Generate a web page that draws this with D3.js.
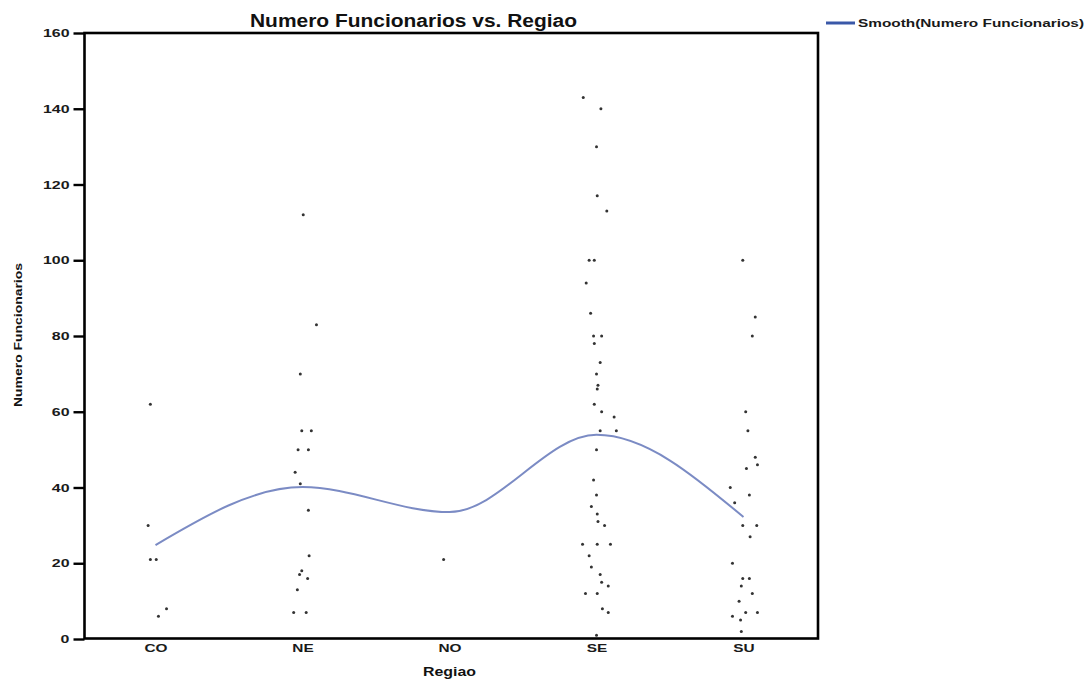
<!DOCTYPE html>
<html>
<head>
<meta charset="utf-8">
<script src="https://cdn.jsdelivr.net/npm/d3@7"></script>
<style>
  html, body { margin: 0; padding: 0; background: #fff; }
  svg { display: block; font-family: "Liberation Sans", Arial, sans-serif; }
</style>
</head>
<body>
<svg id="chart" width="1085" height="680"></svg>
<script>
// Regions on the x axis
const regions = ["CO", "NE", "NO", "SE", "SU"];

// Employee counts per region; jitter is the horizontal spread within a region (in category units)
const coValues = [62, 30, 21, 21, 8, 6];
const coJitter = [-0.035, -0.05, -0.035, 0.005, 0.075, 0.02];

const neValues = [112, 83, 70, 55, 55, 50, 50, 44, 41, 34, 22, 18, 17, 16, 13, 7, 7];
const neJitter = [0.005, 0.095, -0.015, -0.005, 0.06, -0.03, 0.04, -0.05, -0.015, 0.04, 0.045, -0.005, -0.02, 0.035, -0.035, -0.06, 0.025];

const noValues = [21];
const noJitter = [-0.04];

const seValues = [143, 140, 130, 117, 113, 100, 100, 94, 86, 80, 80, 78, 73, 70, 67, 66, 62, 60, 58.6, 55, 55,
                  50, 42, 38, 35, 33, 31, 30, 25, 25, 25, 22, 19, 17, 15, 14, 12, 12, 8, 7, 1];
const seJitter = [-0.09, 0.03, 0, 0.005, 0.07, -0.05, -0.015, -0.07, -0.04, -0.02, 0.035, -0.015, 0.025, 0, 0.01, 0.005, -0.015, 0.035, 0.12, 0.025, 0.135,
                  0, -0.02, 0, -0.035, 0.005, 0.01, 0.055, -0.095, 0.005, 0.095, -0.05, -0.035, 0.025, 0.035, 0.08, -0.075, 0.005, 0.04, 0.08, 0];

const suValues = [100, 85, 80, 60, 55, 48, 45, 46, 40, 36, 38, 30, 30, 27, 20, 16, 16, 14, 12, 10, 7, 7, 6, 5, 2];
const suJitter = [-0.005, 0.08, 0.06, 0.015, 0.03, 0.08, 0.02, 0.095, -0.09, -0.06, 0.04, -0.005, 0.09, 0.045, -0.075, -0.005, 0.04, -0.015, 0.06, -0.03, 0.015, 0.095, -0.075, -0.02, -0.015];

// Smoothed fit of employee count per region
const smoothValues = [24.8, 40.1, 33.5, 53.9, 32.2];

// Y axis ticks
const yTicks = [0, 20, 40, 60, 80, 100, 120, 140, 160];

const title = "Numero Funcionarios vs. Regiao";
const yLabel = "Numero Funcionarios";
const xLabel = "Regiao";
const legendLabel = "Smooth(Numero Funcionarios)";

const groups = [
  [coValues, coJitter], [neValues, neJitter], [noValues, noJitter],
  [seValues, seJitter], [suValues, suJitter]
];
const points = [];
groups.forEach(([vals, jit], i) => {
  vals.forEach((v, k) => points.push({ x: i + jit[k], y: v }));
});

const svg = d3.select("#chart");
const frame = { left: 84.5, right: 818, top: 33, bottom: 638.5 };

const x = d3.scaleLinear().domain([-0.5, regions.length - 0.5]).range([82, 817]);
const y = d3.scaleLinear().domain([0, 160]).range([639, 33]);

// Plot frame
svg.append("rect")
  .attr("x", frame.left).attr("y", frame.top)
  .attr("width", frame.right - frame.left)
  .attr("height", frame.bottom - frame.top)
  .attr("fill", "none").attr("stroke", "#000").attr("stroke-width", 2.6);

// Y axis
const yAxis = svg.append("g")
  .attr("transform", `translate(${frame.left},0)`)
  .call(d3.axisLeft(y).tickValues(yTicks).tickSize(11).tickPadding(4));
yAxis.select(".domain").remove();
yAxis.selectAll(".tick line").attr("stroke", "#000").attr("stroke-width", 2.4);
yAxis.selectAll(".tick text")
  .attr("font-size", 11).attr("font-weight", "bold").attr("fill", "#1a1a1a")
  .attr("font-family", "Liberation Sans, Arial, sans-serif")
  .each(function () {
    const t = d3.select(this);
    t.attr("transform", `translate(${t.attr("x")},0) scale(1.45,1)`).attr("x", 0);
  });

// X axis (category labels only)
const xAxis = svg.append("g")
  .attr("transform", `translate(0,${frame.bottom})`)
  .call(d3.axisBottom(x).tickValues(d3.range(regions.length))
        .tickFormat(i => regions[i]).tickSize(0).tickPadding(6));
xAxis.select(".domain").remove();
xAxis.selectAll(".tick text")
  .attr("font-size", 11).attr("font-weight", "bold").attr("fill", "#1a1a1a")
  .attr("font-family", "Liberation Sans, Arial, sans-serif")
  .attr("dy", "0.71em")
  .each(function () {
    const t = d3.select(this);
    t.attr("transform", `translate(0,${t.attr("y")}) scale(1.4,1)`).attr("y", 0);
  });

// Scatter points
svg.append("g").selectAll("circle")
  .data(points)
  .join("circle")
  .attr("cx", d => x(d.x))
  .attr("cy", d => y(d.y))
  .attr("r", 1.5)
  .attr("fill", "#333");

// Smooth line
const line = d3.line()
  .x((d, i) => x(i))
  .y(d => y(d))
  .curve(d3.curveMonotoneX);
svg.append("path")
  .datum(smoothValues)
  .attr("d", line)
  .attr("fill", "none")
  .attr("stroke", "#4f64b0")
  .attr("stroke-opacity", 0.75)
  .attr("stroke-width", 2);

// Title
svg.append("text")
  .attr("x", 413.5).attr("y", 27)
  .attr("text-anchor", "middle")
  .attr("font-size", 18).attr("font-weight", "bold").attr("fill", "#111")
  .attr("textLength", 327).attr("lengthAdjust", "spacingAndGlyphs")
  .text(title);

// Axis titles
svg.append("text")
  .attr("transform", "translate(22,335) rotate(-90)")
  .attr("text-anchor", "middle")
  .attr("font-size", 11).attr("font-weight", "bold").attr("fill", "#111")
  .attr("textLength", 144).attr("lengthAdjust", "spacingAndGlyphs")
  .text(yLabel);

svg.append("text")
  .attr("x", 449.5).attr("y", 676)
  .attr("text-anchor", "middle")
  .attr("font-size", 12).attr("font-weight", "bold").attr("fill", "#111")
  .attr("textLength", 53).attr("lengthAdjust", "spacingAndGlyphs")
  .text(xLabel);

// Legend
const legend = svg.append("g");
legend.append("line")
  .attr("x1", 826).attr("x2", 855).attr("y1", 23).attr("y2", 23)
  .attr("stroke", "#3a58a8").attr("stroke-width", 3);
legend.append("text")
  .attr("x", 858).attr("y", 27)
  .attr("font-size", 11).attr("font-weight", "bold").attr("fill", "#1a1a1a")
  .attr("textLength", 226).attr("lengthAdjust", "spacingAndGlyphs")
  .text(legendLabel);
</script>
</body>
</html>
